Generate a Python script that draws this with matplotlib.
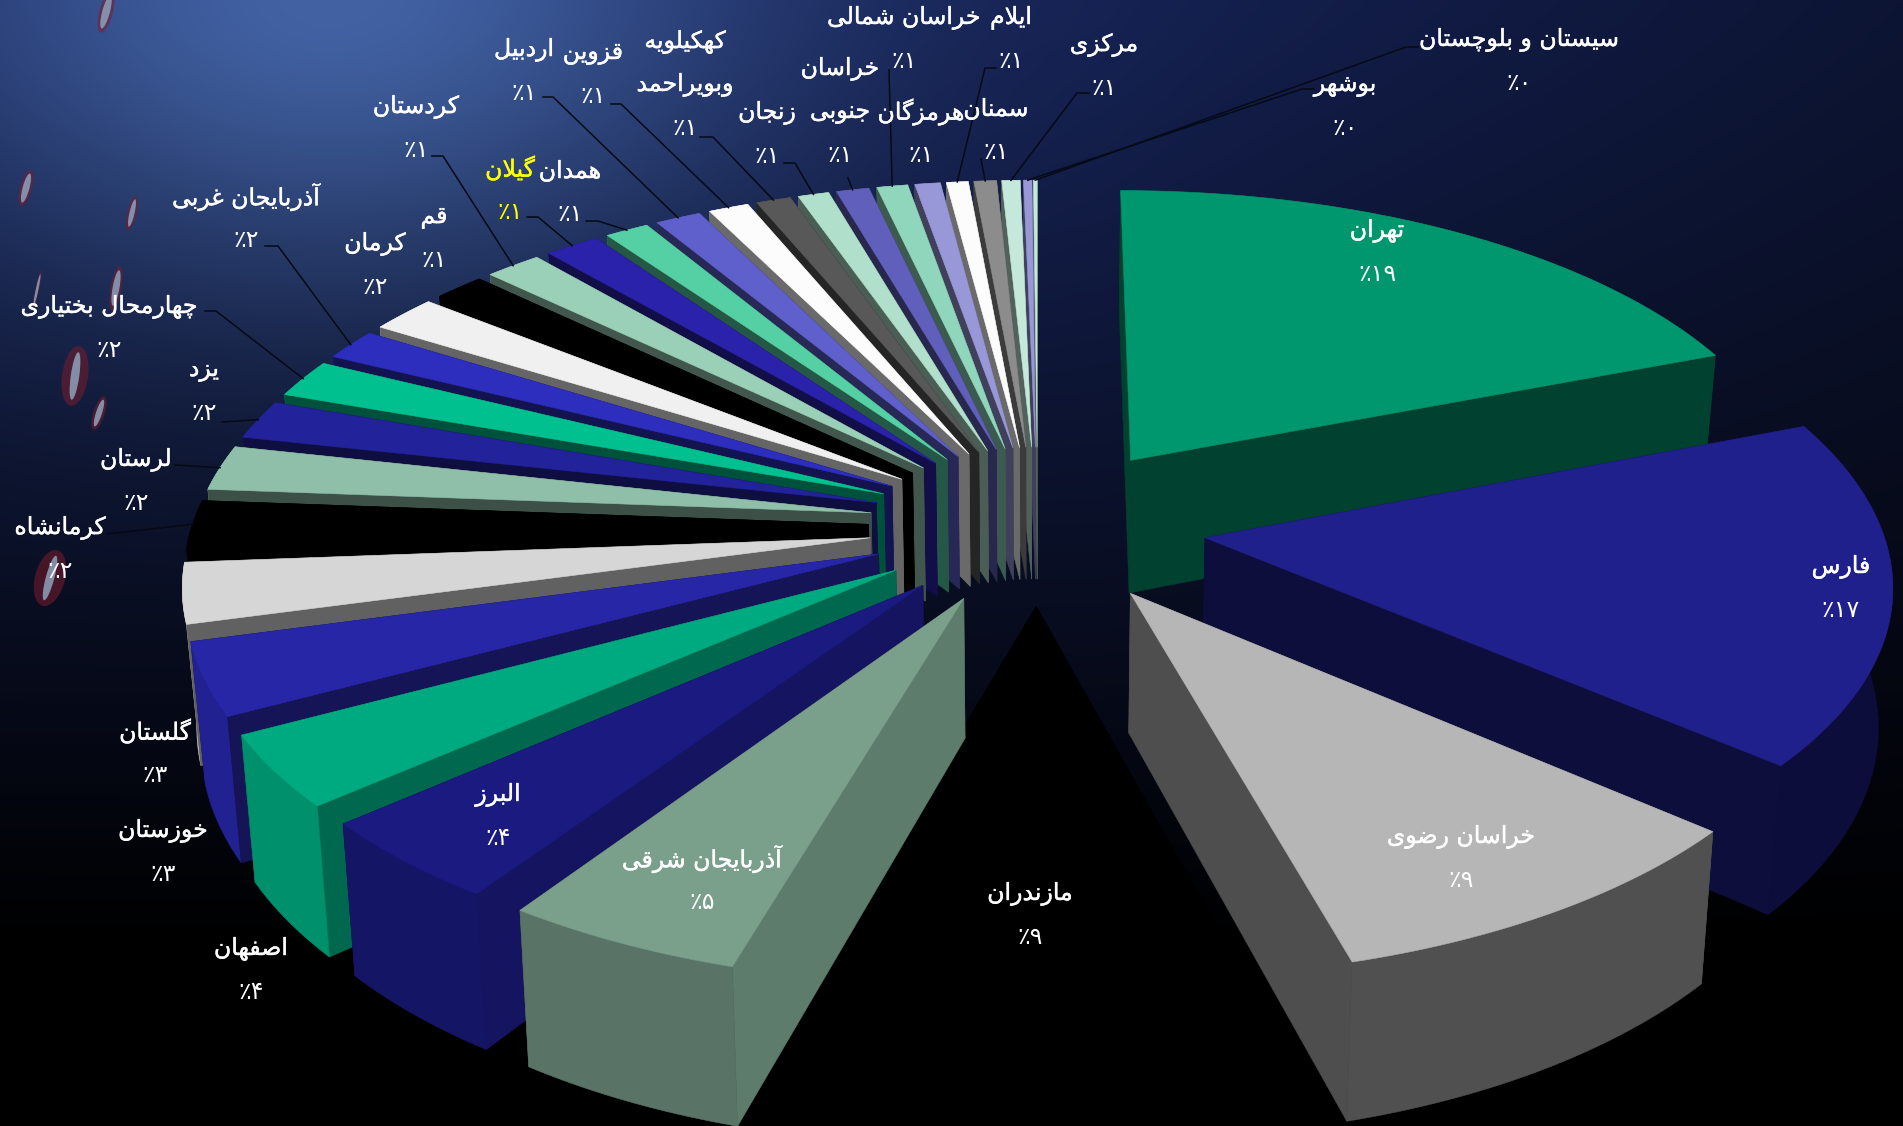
#!/usr/bin/env python3

import numpy as np
import matplotlib
matplotlib.use('Agg')
import matplotlib.pyplot as plt
import matplotlib.patheffects as pe
from matplotlib.patches import Polygon, Ellipse

provinces = ['تهران', 'فارس', 'خراسان رضوی', 'مازندران', 'آذربایجان شرقی', 'البرز', 'اصفهان',
             'خوزستان', 'گلستان', 'کرمانشاه', 'لرستان', 'یزد', 'چهارمحال بختیاری', 'آذربایجان غربی',
             'کرمان', 'قم', 'کردستان', 'گیلان', 'همدان', 'اردبیل', 'قزوین',
             'کهکیلویه\nوبویراحمد', 'زنجان', 'خراسان\nجنوبی', 'خراسان شمالی', 'هرمزگان',
             'ایلام', 'سمنان', 'مرکزی', 'بوشهر', 'سیستان و بلوچستان']
shares = [19.1, 17.2, 9.45, 8.75, 4.95, 4.15, 3.6,
          3.6, 3.0, 2.4, 2.25, 1.95, 1.9, 1.55,
          1.85, 1.4, 1.55, 1.5, 1.2, 1.25, 1.1,
          0.95, 0.85, 0.9, 0.85, 0.7,
          0.6, 0.62, 0.5, 0.23, 0.1]
percent_labels = ['٪۱۹', '٪۱۷', '٪۹', '٪۹', '٪۵', '٪۴', '٪۴',
                  '٪۳', '٪۳', '٪۲', '٪۲', '٪۲', '٪۲', '٪۲',
                  '٪۲', '٪۱', '٪۱', '٪۱', '٪۱', '٪۱', '٪۱',
                  '٪۱', '٪۱', '٪۱', '٪۱', '٪۱',
                  '٪۱', '٪۱', '٪۱', '٪۰', '٪۰']
top_colors = ['#00966e', '#20208c', '#b6b6b6', '#000000', '#7aa08c', '#1a1a80', '#00aa80',
              '#2626a6', '#d6d6d6', '#000000', '#8fbfa8', '#22229a', '#00c090', '#2d2dbe',
              '#f0f0f0', '#000000', '#9ad0b8', '#2a22aa', '#55cfa4', '#6060cc', '#fcfcfc',
              '#585858', '#b0e0cc', '#6060bc', '#90d6bc', '#9898d8',
              '#fcfcfc', '#8c8c8c', '#c4e8da', '#9898d8', '#c4e8da']

# label anchors in image pixels, top line of the name
label_x = [1377, 1841, 1461, 1030, 702, 498, 251, 163, 155, 60, 136, 204, 109, 246, 375, 434, 416,
           510, 570, 524, 593, 685, 767, 840, 904, 921, 1011, 996, 1104, 1345, 1519]
label_y = [231, 567, 837, 894, 859, 795, 949, 831, 732, 528, 460, 370, 307, 197, 244, 217, 107,
           169, 171, 50, 53, 42, 113, 69, 18, 112, 18, 109, 45, 85, 40]

# leaders: province index and the points before the rim
leaders = {9: [(107, 534)], 10: [(175, 465)], 11: [(222, 422)],
           12: [(205, 311), (216, 311)], 13: [(265, 246), (278, 246)],
           16: [(432, 156), (443, 156)], 17: [(527, 217), (538, 217)],
           18: [(586, 221), (598, 221)], 19: [(543, 97), (553, 97)],
           20: [(611, 104), (621, 104)], 21: [(700, 137), (713, 137)],
           22: [(784, 163), (795, 163)], 23: [(848, 178)], 24: [(889, 70)],
           26: [(996, 68), (985, 68)], 27: [(981, 159)],
           28: [(1089, 93), (1077, 93)], 29: [(1314, 89), (1302, 89)],
           30: [(1418, 47), (1406, 47)]}

# scratches of the backdrop photo: x, y, length, width, lean
streaks = [(106, 12, 34, 9, -15, 1.5), (26, 188, 30, 8, -15, 1.5), (132, 213, 28, 6, -13, 1.6),
           (37, 290, 32, 3, -12, 1.3), (116, 288, 36, 8, -10, 1.4), (75, 376, 48, 10, -8, 2.6),
           (99, 413, 28, 7, -18, 1.6), (50, 578, 46, 10, -15, 3.0)]

WIDTH, HEIGHT = 1903, 1126
CX, CY = 1037.6, 524.3
AX, AY = 676.0, 318.0
PERSP = 0.124
EXPLODE = 0.25
DEPTH = 136.0
CONVERGE = 0.017

FORMS = {'ا': 'ﺍﺎ', 'آ': 'ﺁﺂ', 'د': 'ﺩﺪ', 'ذ': 'ﺫﺬ', 'ر': 'ﺭﺮ', 'ز': 'ﺯﺰ', 'و': 'ﻭﻮ',
         'ب': 'ﺏﺐﺑﺒ', 'پ': 'ﭖﭗﭘﭙ', 'ت': 'ﺕﺖﺗﺘ', 'ج': 'ﺝﺞﺟﺠ', 'چ': 'ﭺﭻﭼﭽ', 'ح': 'ﺡﺢﺣﺤ',
         'خ': 'ﺥﺦﺧﺨ', 'س': 'ﺱﺲﺳﺴ', 'ش': 'ﺵﺶﺷﺸ', 'ص': 'ﺹﺺﺻﺼ', 'ض': 'ﺽﺾﺿﻀ', 'غ': 'ﻍﻎﻏﻐ',
         'ف': 'ﻑﻒﻓﻔ', 'ق': 'ﻕﻖﻗﻘ', 'ک': 'ﮎﮏﮐﮑ', 'گ': 'ﮒﮓﮔﮕ', 'ل': 'ﻝﻞﻟﻠ', 'م': 'ﻡﻢﻣﻤ',
         'ن': 'ﻥﻦﻧﻨ', 'ه': 'ﻩﻪﻫﻬ', 'ی': 'ﯼﯽﯾﯿ'}


def shape(text):
    # matplotlib has no Arabic shaping, so pick the joined forms and reverse by hand
    out = []
    i = 0
    prev_joins = False
    while i < len(text):
        c = text[i]
        if c not in FORMS:
            out.append(c)
            prev_joins = False
            i += 1
            continue
        if c == 'ل' and i + 1 < len(text) and text[i + 1] == 'ا':
            out.append('ﻼ' if prev_joins else 'ﻻ')
            prev_joins = False
            i += 2
            continue
        forms = FORMS[c]
        next_letter = i + 1 < len(text) and text[i + 1] in FORMS
        if len(forms) == 2:
            out.append(forms[1] if prev_joins else forms[0])
            prev_joins = False
        else:
            if prev_joins and next_letter:
                out.append(forms[3])
            elif prev_joins:
                out.append(forms[1])
            elif next_letter:
                out.append(forms[2])
            else:
                out.append(forms[0])
            prev_joins = True
        i += 1
    return ''.join(reversed(out))


def project(x, y, z=0.0):
    w = 1 + PERSP * y
    sx = AX * x / w * (1 - CONVERGE * z)
    sy = -AY * y / w + z * DEPTH / w
    return np.column_stack([CX + sx, CY + sy])


def shade(color, factor):
    rgb = np.array(matplotlib.colors.to_rgb(color))
    return tuple(rgb * factor)


def backdrop():
    yy, xx = np.mgrid[0:HEIGHT:2, 0:WIDTH:2]
    t = np.clip(yy / 950, 0, 1)[..., None] ** 1.15
    base = np.array([0x14, 0x20, 0x50]) * (1 - t)
    fade = (1 - 0.35 * np.clip((xx - 1100) / 800, 0, 1))[..., None]
    glow = np.exp(-((xx - 330) / 430) ** 2 - (yy / 300) ** 2)[..., None]
    img = base * fade + np.array([0x2e, 0x42, 0x54]) * glow
    return np.clip(img / 255, 0, 1)


def main():
    fig = plt.figure(figsize=(WIDTH / 100, HEIGHT / 100), dpi=100)
    ax = fig.add_axes([0, 0, 1, 1])
    ax.imshow(backdrop(), extent=(0, WIDTH, HEIGHT, 0), aspect='auto', zorder=0)

    for x, y, length, thick, lean, halo in streaks:
        ax.add_patch(Ellipse((x, y), thick * halo, length * 1.25, angle=-lean, color='#7a1c2c',
                             alpha=0.55, lw=0, zorder=1))
        ax.add_patch(Ellipse((x, y), thick * 0.85, length, angle=-lean, color='#8a9ab4',
                             alpha=0.9, lw=0, zorder=1))

    edges = np.radians(np.cumsum([0] + shares) / sum(shares) * 360)
    slices = []
    for i in range(len(shares)):
        start, stop = edges[i], edges[i + 1]
        mid = (start + stop) / 2
        ox, oy = EXPLODE * np.sin(mid), EXPLODE * np.cos(mid)
        arc = np.linspace(start, stop, max(3, int(np.degrees(stop - start)) + 2))
        rim_x = ox + np.sin(arc)
        rim_y = oy + np.cos(arc)
        order = oy + np.cos(mid)
        # the black front slice sits behind the walls of its two neighbours
        if provinces[i] == 'مازندران':
            order += 0.5
        slices.append((order, i, ox, oy, rim_x, rim_y, mid, start))

    rim_points = {}
    for _, i, ox, oy, rim_x, rim_y, mid, start in sorted(slices, key=lambda s: -s[0]):
        color = top_colors[i]
        rim_points[i] = project(np.array([ox + np.sin(mid)]), np.array([oy + np.cos(mid)]))[0]
        o_top = project(np.array([ox]), np.array([oy]))
        o_bot = project(np.array([ox]), np.array([oy]), 1.0)
        rim_top = project(rim_x, rim_y)
        rim_bot = project(rim_x, rim_y, 1.0)

        # walls first, farther ones before nearer ones, then the top face
        first_wall = shade(color, np.interp(np.degrees(start), [190, 215, 230, 245, 262],
                                            [0.78, 0.75, 0.6, 0.5, 0.42]))
        if np.degrees(start) < 190:
            first_wall = shade(color, 0.43)
        last_wall = shade(color, 0.43)
        outer = shade(color, np.clip(0.6 - 0.3 * np.sin(mid), 0.42, 1))
        walls = [(np.vstack([o_top, rim_top[:1], rim_bot[:1], o_bot]), first_wall, rim_y[0]),
                 (np.vstack([o_top, rim_top[-1:], rim_bot[-1:], o_bot]), last_wall, rim_y[-1]),
                 (np.vstack([rim_top, rim_bot[::-1]]), outer, rim_y.mean() * 1.2)]
        for pts, face, _ in sorted(walls, key=lambda item: -item[2]):
            ax.add_patch(Polygon(pts, closed=True, facecolor=face, edgecolor=face, lw=0.4, zorder=2))
        top = np.vstack([o_top, rim_top])
        ax.add_patch(Polygon(top, closed=True, facecolor=color, edgecolor=color, lw=0.4, zorder=2))

    for i, pts in leaders.items():
        line = np.array(pts + [tuple(rim_points[i])])
        ax.plot(line[:, 0], line[:, 1], color='#060a14', lw=1.1, zorder=3)

    for i, name in enumerate(provinces):
        color = '#ffff00' if name == 'گیلان' else 'white'
        lines = name.split('\n')
        for k, part in enumerate(lines):
            t = ax.text(label_x[i], label_y[i] + 43 * k, shape(part), color=color, fontsize=17,
                        family='DejaVu Sans', ha='center', va='center', zorder=4)
            t.set_path_effects([pe.withStroke(linewidth=0.3, foreground=color)])
        ax.text(label_x[i], label_y[i] + 43 * len(lines), percent_labels[i], color=color,
                fontsize=17, family='DejaVu Sans', ha='center', va='center', zorder=4)

    ax.set_xlim(0, WIDTH)
    ax.set_ylim(HEIGHT, 0)
    ax.axis('off')
    plt.savefig('out.png', dpi=100)


if __name__ == "__main__":
    main()
